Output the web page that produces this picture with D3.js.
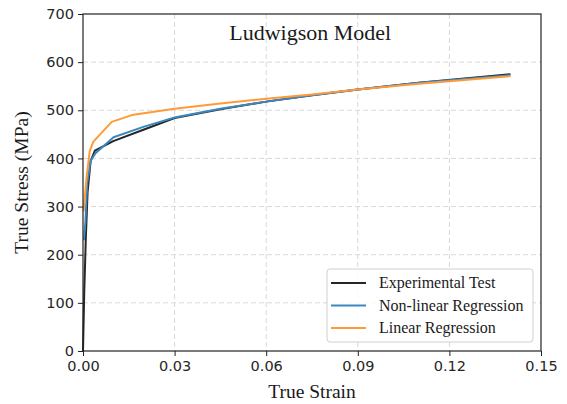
<!DOCTYPE html>
<html>
<head>
<meta charset="utf-8">
<script src="https://cdn.jsdelivr.net/npm/d3@7"></script>
<style>
  body { margin: 0; background: #fff; }
  .tick text { font-family: "DejaVu Sans", sans-serif; font-size: 14.5px; fill: #262626; }
  .serif { font-family: "Liberation Serif", "Times New Roman", serif; fill: #1a1a1a; }
</style>
</head>
<body>
<svg width="567" height="404"></svg>
<script>
// strain / stress readings for each curve
var expStrain = [0, 0.0004, 0.0009, 0.0015, 0.0025, 0.0039, 0.0099, 0.02, 0.03, 0.045, 0.06, 0.075, 0.09, 0.11, 0.14];
var expStress = [0, 120, 230, 330, 395, 416, 436, 460, 484, 502, 518, 531, 543, 557, 575];

var nonlinStrain = [0.0003, 0.0008, 0.0014, 0.0025, 0.004, 0.01, 0.02, 0.03, 0.045, 0.06, 0.075, 0.09, 0.11, 0.14];
var nonlinStress = [230, 270, 350, 395, 410, 444, 466, 485, 503, 518, 531, 543, 557, 573];

var linStrain = [0.0002, 0.0006, 0.0012, 0.0022, 0.0034, 0.0094, 0.016, 0.03, 0.045, 0.06, 0.075, 0.09, 0.11, 0.14];
var linStress = [290, 320, 362, 415, 435, 476, 490, 503, 514, 524, 533, 543, 555, 571];

var xTicks = [0, 0.03, 0.06, 0.09, 0.12, 0.15];
var yTicks = [0, 100, 200, 300, 400, 500, 600, 700];

var seriesNames = ["Experimental Test", "Non-linear Regression", "Linear Regression"];
var seriesColors = ["#262626", "#3a88c0", "#ff9a3a"];

var margin = { top: 14, right: 26, bottom: 53, left: 83 },
  width = 567 - margin.left - margin.right,
  height = 404 - margin.top - margin.bottom;

var svg = d3.select("svg");
var g = svg.append("g")
  .attr("transform", "translate(" + margin.left + "," + margin.top + ")");

var x = d3.scaleLinear().domain([0, 0.15]).range([0, width]);
var y = d3.scaleLinear().domain([0, 700]).range([height, 0]);

// dashed grid
g.append("g").selectAll("line.gx")
  .data(xTicks.slice(1, -1))
  .enter().append("line")
  .attr("x1", function(d) { return x(d); })
  .attr("x2", function(d) { return x(d); })
  .attr("y1", 0).attr("y2", height)
  .attr("stroke", "#d8d8d8").attr("stroke-dasharray", "5,3");
g.append("g").selectAll("line.gy")
  .data(yTicks.slice(1, -1))
  .enter().append("line")
  .attr("y1", function(d) { return y(d); })
  .attr("y2", function(d) { return y(d); })
  .attr("x1", 0).attr("x2", width)
  .attr("stroke", "#d8d8d8").attr("stroke-dasharray", "5,3");

var line = d3.line()
  .x(function(d) { return x(d[0]); })
  .y(function(d) { return y(d[1]); });

function pairs(xs, ys) {
  return xs.map(function(v, i) { return [v, ys[i]]; });
}

var curves = [pairs(expStrain, expStress), pairs(nonlinStrain, nonlinStress), pairs(linStrain, linStress)];

curves.forEach(function(c, i) {
  g.append("path")
    .datum(c)
    .attr("fill", "none")
    .attr("stroke", seriesColors[i])
    .attr("stroke-width", 2)
    .attr("stroke-linejoin", "round")
    .attr("d", line);
});

// frame
g.append("rect")
  .attr("width", width).attr("height", height)
  .attr("fill", "none").attr("stroke", "#222").attr("stroke-width", 1.2);

var xAxis = d3.axisBottom(x).tickValues(xTicks).tickFormat(d3.format(".2f")).tickSize(5).tickPadding(5);
var yAxis = d3.axisLeft(y).tickValues(yTicks).tickSize(5).tickPadding(4);

g.append("g")
  .attr("transform", "translate(0," + height + ")")
  .call(xAxis)
  .call(function(s) { s.select(".domain").remove(); s.selectAll("line").attr("stroke", "#222"); });

g.append("g")
  .call(yAxis)
  .call(function(s) { s.select(".domain").remove(); s.selectAll("line").attr("stroke", "#222"); });

// title and axis labels
g.append("text")
  .attr("class", "serif")
  .attr("x", x(0.0744)).attr("y", 26)
  .attr("text-anchor", "middle")
  .style("font-size", "22px")
  .text("Ludwigson Model");

svg.append("text")
  .attr("class", "serif")
  .attr("x", margin.left + width / 2).attr("y", 398)
  .attr("text-anchor", "middle")
  .style("font-size", "19.5px")
  .text("True Strain");

svg.append("text")
  .attr("class", "serif")
  .attr("transform", "translate(28," + (margin.top + height / 2) + ") rotate(-90)")
  .attr("text-anchor", "middle")
  .style("font-size", "19.5px")
  .text("True Stress (MPa)");

// legend
var legend = svg.append("g").attr("transform", "translate(327,269)");
legend.append("rect")
  .attr("width", 206).attr("height", 73).attr("rx", 3)
  .attr("fill", "#fff").attr("fill-opacity", 0.85)
  .attr("stroke", "#d0d0d0");

seriesNames.forEach(function(name, i) {
  var row = legend.append("g").attr("transform", "translate(0," + (14 + i * 22.5) + ")");
  row.append("line")
    .attr("x1", 4).attr("x2", 39)
    .attr("stroke", seriesColors[i]).attr("stroke-width", 2);
  row.append("text")
    .attr("class", "serif")
    .attr("x", 52).attr("y", 5)
    .style("font-size", "16px")
    .text(name);
});
</script>
</body>
</html>
